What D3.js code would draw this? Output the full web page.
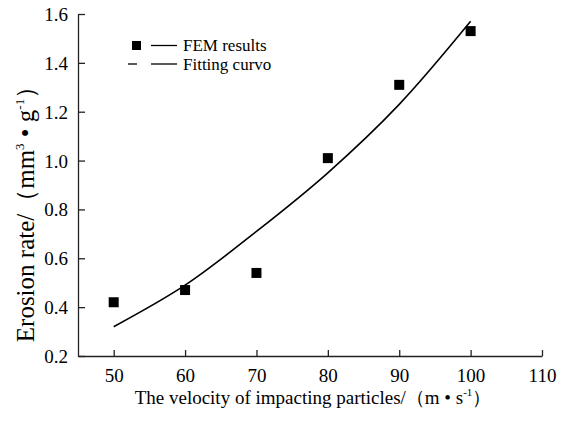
<!DOCTYPE html>
<html><head><meta charset="utf-8">
<script src="https://cdn.jsdelivr.net/npm/d3@7"></script>
<style>body{margin:0;background:#fff;}</style></head>
<body><svg id="c" width="569" height="421"></svg>
<script>
const femX = [50, 60, 70, 80, 90, 100];
const femY = [0.42, 0.47, 0.54, 1.01, 1.31, 1.53];
const fitX = [50, 60, 70, 80, 90, 100];
const fitY = [0.32, 0.49, 0.71, 0.95, 1.23, 1.57];
const xTicks = [50, 60, 70, 80, 90, 100, 110];
const yTicks = [0.2, 0.4, 0.6, 0.8, 1.0, 1.2, 1.4, 1.6];
const legendLabels = ["FEM results", "Fitting curvo"];

const FONT = '"Liberation Serif", "Times New Roman", serif';
const svg = d3.select("#c").style("font-family", FONT);
const x = d3.scaleLinear().domain([45, 110]).range([78, 542]);
const y = d3.scaleLinear().domain([0.2, 1.6]).range([356, 14]);

const xa = svg.append("g").attr("transform","translate(0,356)")
  .call(d3.axisBottom(x).tickValues(xTicks).tickSize(-6).tickPadding(13).tickSizeOuter(0).tickFormat(d3.format("d")));
const ya = svg.append("g").attr("transform","translate(78,0)")
  .call(d3.axisLeft(y).tickValues(yTicks).tickSize(-7).tickPadding(10).tickSizeOuter(0).tickFormat(d3.format(".1f")));
[xa, ya].forEach(g => {
  g.attr("font-family", null).attr("font-size", null);
  g.selectAll("path.domain").attr("stroke","#222").attr("stroke-width",1.3);
  g.selectAll(".tick line").attr("stroke","#222").attr("stroke-width",1.3);
  g.selectAll("text").style("font-family", FONT).style("font-size","19px").attr("fill","#000");
});
ya.selectAll("text").attr("dy","0.34em");

// fitted curve
const line = d3.line().x((d,i)=>x(fitX[i])).y(d=>y(d)).curve(d3.curveCatmullRom.alpha(0.5));
svg.append("path").datum(fitY).attr("d", line).attr("fill","none").attr("stroke","#000").attr("stroke-width",1.6);

// markers
const ms = 10;
svg.selectAll("rect.m").data(femY).enter().append("rect").attr("class","m")
  .attr("x",(d,i)=>x(femX[i])-ms/2).attr("y",d=>y(d)-ms/2).attr("width",ms).attr("height",ms).attr("fill","#000");

// legend
const lg = svg.append("g");
lg.append("rect").attr("x",132).attr("y",41).attr("width",9).attr("height",9).attr("fill","#000");
lg.append("line").attr("x1",151).attr("x2",177).attr("y1",45.5).attr("y2",45.5).attr("stroke","#000").attr("stroke-width",1.3);
lg.append("line").attr("x1",128).attr("x2",137).attr("y1",64).attr("y2",64).attr("stroke","#000").attr("stroke-width",1.3);
lg.append("line").attr("x1",151).attr("x2",177).attr("y1",64).attr("y2",64).attr("stroke","#000").attr("stroke-width",1.3);
lg.append("text").attr("x",183).attr("y",51).style("font-family",FONT).style("font-size","17px").text(legendLabels[0]);
lg.append("text").attr("x",183).attr("y",70).style("font-family",FONT).style("font-size","17px").text(legendLabels[1]);

// x title
const xt = svg.append("text").attr("x",313).attr("y",404).attr("text-anchor","middle").style("font-family",FONT).style("font-size","19px");
xt.append("tspan").text("The velocity of impacting particles/（m • s");
xt.append("tspan").style("font-size","11px").attr("dy",-8).text("-1");
xt.append("tspan").attr("dy",8).text("）");

// y title
const yt = svg.append("text").attr("transform","translate(34,208) rotate(-90)").attr("text-anchor","middle").style("font-family",FONT).style("font-size","25px");
yt.append("tspan").text("Erosion rate/（mm");
yt.append("tspan").style("font-size","13px").attr("dy",-10).text("3");
yt.append("tspan").attr("dy",10).text(" • g");
yt.append("tspan").style("font-size","13px").attr("dy",-10).text("-1");
yt.append("tspan").attr("dy",10).text("）");
</script></body></html>
